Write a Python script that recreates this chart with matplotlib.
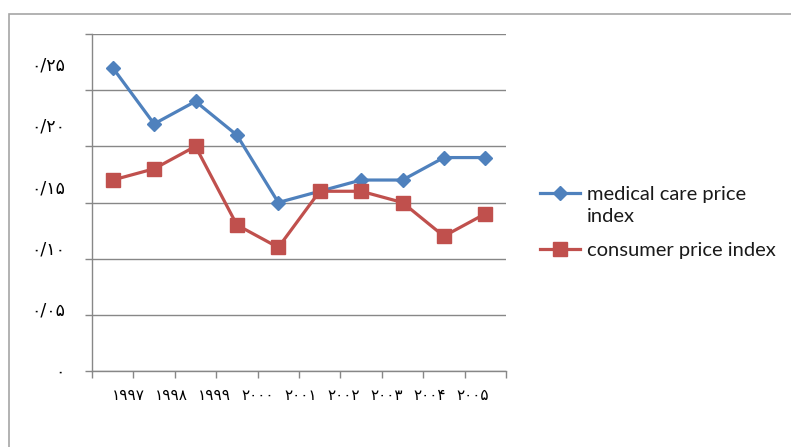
import matplotlib
matplotlib.use("Agg")
import matplotlib.pyplot as plt
from matplotlib.patches import Rectangle
import numpy as np

# ---- data ----
years = ["۱۹۹۷", "۱۹۹۸", "۱۹۹۹", "۲۰۰۰", "۲۰۰۱", "۲۰۰۲", "۲۰۰۳", "۲۰۰۴", "۲۰۰۵"]
medical = [0.27, 0.22, 0.24, 0.21, 0.15, 0.16, 0.17, 0.17, 0.19, 0.19]
consumer = [0.17, 0.18, 0.20, 0.13, 0.11, 0.16, 0.16, 0.15, 0.12, 0.14]
y_labels = ["۰", "۰/۰۵", "۰/۱۰", "۰/۱۵", "۰/۲۰", "۰/۲۵"]
series_names = ["medical care price", "consumer price index"]
name_wrap = "index"

W, H = 791, 447
fig = plt.figure(figsize=(W / 100, H / 100), dpi=100)

# outer frame (only top and left visible)
fig.patches.append(Rectangle((9 / W, -0.05), 1.1, (H - 14) / H + 0.05,
                             transform=fig.transFigure, fill=False,
                             edgecolor="#A6A6A6", linewidth=1.2))

ax = fig.add_axes([92 / W, (H - 371) / H, (506 - 92) / W, (371 - 34) / H])

blue = "#4F81BD"
red = "#C0504D"
grid_c = "#878787"

x = np.arange(len(medical))
ax.plot(x, medical, color=blue, lw=2.3, marker="D", ms=7.5,
        label=series_names[0], solid_joinstyle="round")
ax.plot(x, consumer, color=red, lw=2.3, marker="s", ms=9.5,
        label=series_names[1], solid_joinstyle="round")

ax.set_xlim(-0.5, len(medical) - 0.5)
ax.set_ylim(0, 0.30)

ax.yaxis.remove_overlapping_locs = False
ax.xaxis.remove_overlapping_locs = False

# gridlines / major ticks
ax.set_yticks(np.arange(0, 0.301, 0.05))
ax.set_yticklabels([])
ax.yaxis.grid(True, color=grid_c, lw=1.0)
ax.set_axisbelow(True)
ax.tick_params(axis="y", which="major", length=5, width=1, color=grid_c, direction="out")

ax.set_xticks(np.arange(-0.5, len(medical), 1.0))
ax.set_xticklabels([])
ax.tick_params(axis="x", which="major", length=5, width=1, color=grid_c, direction="out")

# tick labels (as minor ticks)
ypos = [0.001 + k * 0.0545 for k in range(len(y_labels))]
ax.set_yticks(ypos, minor=True)
ax.set_yticklabels(y_labels, minor=True, fontsize=12.5, family=["DejaVu Sans"])
ax.tick_params(axis="y", which="minor", length=0, pad=19.4)

xpos = [0.37 + 1.041 * i for i in range(len(years))]
ax.set_xticks(xpos, minor=True)
ax.set_xticklabels(years, minor=True, fontsize=11, family=["DejaVu Sans"])
ax.tick_params(axis="x", which="minor", length=0, pad=12.5)

for s in ["top", "right"]:
    ax.spines[s].set_visible(False)
for s in ["left", "bottom"]:
    ax.spines[s].set_color(grid_c)
    ax.spines[s].set_linewidth(1.0)

leg = fig.legend(loc="upper left", bbox_to_anchor=(540 / W, (H - 186) / H),
                 frameon=False, prop={"family": "Lato", "size": 14.5},
                 handlelength=2.0, handletextpad=0.35, labelspacing=1.95,
                 borderpad=0, borderaxespad=0, labelcolor="#1a1a1a")

fig.canvas.draw()
t0 = leg.get_texts()[0]
bb = t0.get_window_extent()
fig.text(bb.x0 / W, (bb.y0 - 22) / H, name_wrap, family="Lato", fontsize=14.5,
         color="#1a1a1a", ha="left", va="bottom")

fig.savefig("out.png", dpi=100)
